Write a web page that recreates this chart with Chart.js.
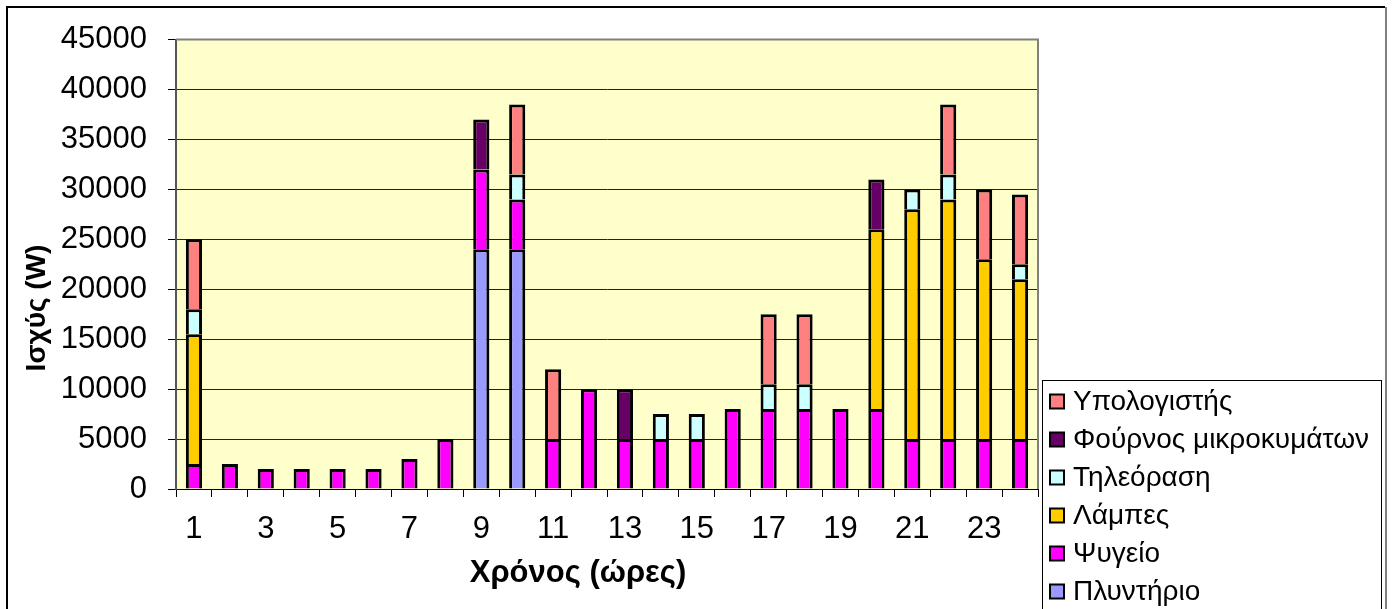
<!DOCTYPE html>
<html>
<head>
<meta charset="utf-8">
<script src="https://cdn.jsdelivr.net/npm/chart.js@4.4.1/dist/chart.umd.min.js"></script>
<style>
  html, body { margin: 0; padding: 0; background: #fff; }
  canvas { display: block; }
</style>
</head>
<body>
<canvas id="myChart" width="1392" height="609"></canvas>
<script>
// hourly power per appliance (W), hours 1..24
const hours = ['1','2','3','4','5','6','7','8','9','10','11','12','13','14','15','16','17','18','19','20','21','22','23','24'];
const washer    = [0,0,0,0,0,0,0,0,24000,24000,0,0,0,0,0,0,0,0,0,0,0,0,0,0];
const fridge    = [2500,2500,2000,2000,2000,2000,3000,5000,8000,5000,5000,10000,5000,5000,5000,8000,8000,8000,8000,8000,5000,5000,5000,5000];
const lamps     = [13000,0,0,0,0,0,0,0,0,0,0,0,0,0,0,0,0,0,0,18000,23000,24000,18000,16000];
const tv        = [2500,0,0,0,0,0,0,0,0,2500,0,0,0,2500,2500,0,2500,2500,0,0,2000,2500,0,1500];
const microwave = [0,0,0,0,0,0,0,0,5000,0,0,0,5000,0,0,0,0,0,0,5000,0,0,0,0];
const computer  = [7000,0,0,0,0,0,0,0,0,7000,7000,0,0,0,0,0,7000,7000,0,0,0,7000,7000,7000];
const yTicks = [0,5000,10000,15000,20000,25000,30000,35000,40000,45000];

const FONT = '"Liberation Sans", Arial, sans-serif';
Chart.defaults.font.family = FONT;
Chart.defaults.color = '#000';

function bars(label, data, color) {
  return {
    label: label,
    data: data,
    backgroundColor: color,
    borderColor: '#000',
    borderWidth: 3,
    borderSkipped: 'start',
    barPercentage: 0.45,
    categoryPercentage: 1.0
  };
}

// background, frames, axis titles and the boxed legend
const decor = {
  id: 'decor',
  beforeDraw(chart) {
    const {ctx, chartArea: a} = chart;
    ctx.save();
    ctx.fillStyle = '#FFFFCC';
    ctx.fillRect(a.left, a.top, a.right - a.left, a.bottom - a.top);
    ctx.restore();
  },
  afterDatasetsDraw(chart) {
    const {ctx, chartArea: a} = chart;
    ctx.save();
    ctx.strokeStyle = '#808080';
    ctx.lineWidth = 2;
    ctx.beginPath();
    ctx.moveTo(a.left, a.top);
    ctx.lineTo(a.right, a.top);
    ctx.lineTo(a.right, a.bottom);
    ctx.stroke();
    ctx.restore();
  },
  afterDraw(chart) {
    const ctx = chart.ctx;
    ctx.save();
    // outer frame
    ctx.strokeStyle = '#000';
    ctx.lineWidth = 2;
    ctx.beginPath();
    ctx.moveTo(7, 620);
    ctx.lineTo(7, 7);
    ctx.lineTo(1385, 7);
    ctx.stroke();
    ctx.strokeStyle = '#808080';
    ctx.beginPath();
    ctx.moveTo(1386, 7);
    ctx.lineTo(1386, 620);
    ctx.stroke();

    // axis titles
    ctx.fillStyle = '#000';
    ctx.textAlign = 'center';
    ctx.textBaseline = 'middle';
    ctx.font = 'bold 31px ' + FONT;
    ctx.fillText('Χρόνος (ώρες)', 578, 573);
    ctx.save();
    ctx.translate(37, 308);
    ctx.rotate(-Math.PI / 2);
    ctx.font = 'bold 28px ' + FONT;
    ctx.fillText('Ισχύς (W)', 0, 0);
    ctx.restore();

    // legend box
    ctx.strokeStyle = '#000';
    ctx.lineWidth = 1;
    ctx.strokeRect(1042.5, 380.5, 339, 250);
    ctx.font = '28px ' + FONT;
    ctx.textAlign = 'left';
    const items = chart.data.datasets.slice().reverse();
    items.forEach((ds, i) => {
      const cy = 401.5 + i * 38;
      ctx.fillStyle = ds.backgroundColor;
      ctx.fillRect(1050, cy - 7, 14, 14);
      ctx.lineWidth = 2;
      ctx.strokeStyle = '#000';
      ctx.strokeRect(1050, cy - 7, 14, 14);
      ctx.fillStyle = '#000';
      ctx.fillText(ds.label, 1073, cy + 1);
    });
    ctx.restore();
  }
};

const ctx = document.getElementById('myChart');

new Chart(ctx, {
  type: 'bar',
  data: {
    labels: hours,
    datasets: [
      bars('Πλυντήριο', washer, '#9999FF'),
      bars('Ψυγείο', fridge, '#FF00FF'),
      bars('Λάμπες', lamps, '#FFCC00'),
      bars('Τηλεόραση', tv, '#CCFFFF'),
      bars('Φούρνος μικροκυμάτων', microwave, '#660066'),
      bars('Υπολογιστής', computer, '#FF8080')
    ]
  },
  options: {
    responsive: false,
    animation: false,
    layout: {
      padding: { left: 0, top: 36, right: 354, bottom: 0 }
    },
    scales: {
      x: {
        stacked: true,
        afterFit: (scale) => { scale.height = 120; },
        grid: {
          offset: true,
          drawOnChartArea: false,
          drawTicks: true,
          tickLength: 8,
          tickColor: '#000'
        },
        border: { color: '#000', width: 1 },
        ticks: {
          autoSkip: false,
          maxRotation: 0,
          padding: 14,
          font: { size: 31 },
          callback: (v, i) => (i % 2 === 0 ? hours[i] : '')
        }
      },
      y: {
        stacked: true,
        min: 0,
        max: 45000,
        afterFit: (scale) => { scale.width = 176; },
        afterBuildTicks: (scale) => { scale.ticks = yTicks.map(v => ({ value: v })); },
        grid: {
          color: '#222',
          lineWidth: 1,
          drawTicks: true,
          tickLength: 8,
          tickColor: '#000'
        },
        border: { color: '#555', width: 2 },
        ticks: {
          padding: 21,
          font: { size: 31 },
          callback: (v) => String(v)
        }
      }
    },
    plugins: {
      legend: { display: false },
      tooltip: { enabled: false }
    }
  },
  plugins: [decor]
});
</script>
</body>
</html>
